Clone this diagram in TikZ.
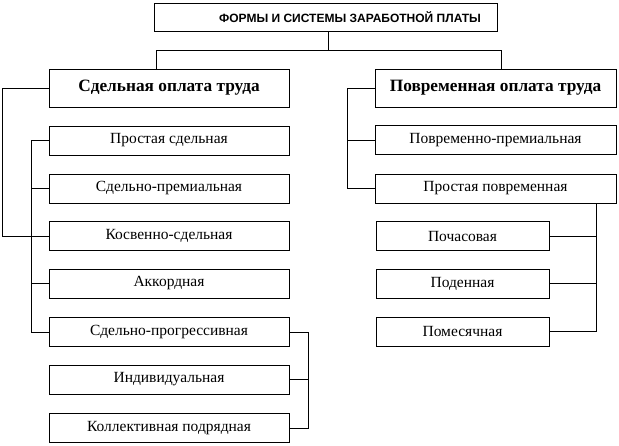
\documentclass[tikz,border=0pt]{standalone}
\usepackage{fontspec}
\setmainfont{Liberation Serif}
\newfontfamily\titlefont{Liberation Sans}
\begin{document}
\begin{tikzpicture}[x=1pt,y=-1pt,
  box/.style={draw, line width=0.9pt, rectangle, inner sep=0pt, minimum height=29pt, font=\fontsize{15.5}{17}\selectfont},
  lbox/.style={box, minimum width=240pt},
  rbox/.style={box, minimum width=241pt},
  sbox/.style={box, minimum width=173pt},
  head/.style={draw, line width=0.9pt, rectangle, inner sep=0pt, minimum height=38pt, font=\bfseries\fontsize{17.3}{19}\selectfont},
  conn/.style={line width=0.9pt}]
\useasboundingbox (0,0) rectangle (619,445);
% title
\node[draw, line width=0.9pt, minimum width=343pt, minimum height=28pt, inner sep=0pt] (title) at (325.5,17) {};
\node[font=\titlefont\bfseries\fontsize{12}{14}\selectfont] (titletext) at (350,17) {ФОРМЫ И СИСТЕМЫ ЗАРАБОТНОЙ ПЛАТЫ};
% heads
\node[head, minimum width=240pt] (L) at (169,88) {Сдельная оплата труда};
\node[head, minimum width=241pt] (R) at (495.5,88) {Повременная оплата труда};
% left boxes
\node[lbox] (l1) at (169,140.5) {Простая сдельная};
\node[lbox] (l2) at (169,188.5) {Сдельно-премиальная};
\node[lbox] (l3) at (169,236) {Косвенно-сдельная};
\node[lbox] (l4) at (169,283.5) {Аккордная};
\node[lbox] (l5) at (169,332) {Сдельно-прогрессивная};
\node[lbox] (l6) at (169,379.5) {Индивидуальная};
\node[lbox] (l7) at (169,428) {Коллективная подрядная};
% right boxes
\node[rbox] (r1) at (495.5,140) {Повременно-премиальная};
\node[rbox] (r2) at (495.5,188.5) {Простая повременная};
\node[sbox] (s1) at (462.5,236) {Почасовая};
\node[sbox] (s2) at (462.5,283.5) {Поденная};
\node[sbox] (s3) at (462.5,331.5) {Помесячная};
% connectors top
\coordinate (tc) at (328,50);
\coordinate (hl) at (156,50);
\coordinate (hr) at (501,50);
\draw[conn] (title.south -| tc) -- (tc);
\draw[conn] (L.north -| hl) -- (hl) -- (hr) -- (R.north -| hr);
% left main
\coordinate (lm) at (2,88);
\draw[conn] (L.west) -- (lm) |- (l3.west);
% left list
\coordinate (ll) at (31,140.5);
\draw[conn] (l1.west) -- (ll) |- (l5.west);
\draw[conn] (l2.west -| ll) -- (l2.west);
\draw[conn] (l3.west -| ll) -- (l3.west);
\draw[conn] (l4.west -| ll) -- (l4.west);
% progressive bracket
\coordinate (pb) at (308,332);
\draw[conn] (l5.east) -- (pb) |- (l7.east);
\draw[conn] (l6.east -| pb) -- (l6.east);
% right main
\coordinate (rm) at (347,88);
\draw[conn] (R.west) -- (rm) |- (r2.west);
\draw[conn] (r1.west -| rm) -- (r1.west);
% time-based bracket
\coordinate (tb) at (596,203);
\draw[conn] (tb) |- (s3.east);
\draw[conn] (s1.east -| tb) -- (s1.east);
\draw[conn] (s2.east -| tb) -- (s2.east);
\end{tikzpicture}
\end{document}
